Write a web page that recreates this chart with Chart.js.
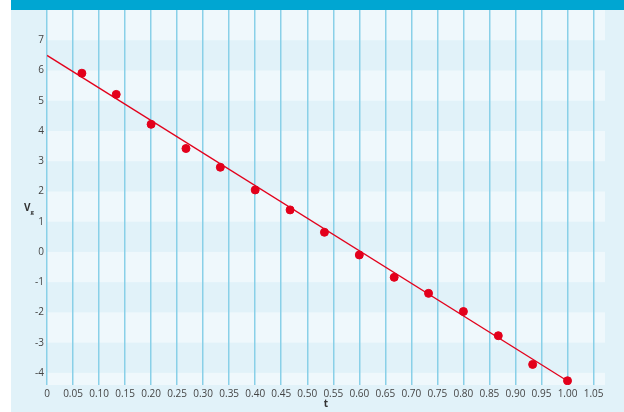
<!DOCTYPE html>
<html>
<head>
<meta charset="utf-8">
<script src="https://cdn.jsdelivr.net/npm/chart.js@4"></script>
<style>
  html, body { margin: 0; padding: 0; background: #fff; }
  #wrap { position: relative; width: 624px; height: 412px; }
</style>
</head>
<body>
<div id="wrap"><canvas id="grafico" width="624" height="412"></canvas></div>
<script>
// measured points
const tValues = [0.067, 0.133, 0.2, 0.267, 0.333, 0.4, 0.467, 0.533, 0.6, 0.667, 0.733, 0.8, 0.867, 0.933, 1.0];
const vgValues = [5.91, 5.21, 4.22, 3.42, 2.80, 2.05, 1.39, 0.65, -0.10, -0.84, -1.37, -1.97, -2.77, -3.72, -4.26];

// fitted line end points
const fitT = [0, 1.0];
const fitVg = [6.5, -4.27];

const xTitle = 't';
const yTitle = 'V';
const ySub = 'g';

const fondo = {
    id: 'fondo',
    beforeDraw(chart) {
        const ctx = chart.ctx;
        const area = chart.chartArea;
        const y = chart.scales.y;
        ctx.save();
        ctx.fillStyle = '#e1f2f9';
        ctx.fillRect(11, 0, chart.width - 11, chart.height);
        ctx.beginPath();
        ctx.rect(area.left, area.top, area.right - area.left, area.bottom - area.top);
        ctx.clip();
        for (let k = -5; k < 8; k++) {
            if (Math.abs(k % 2) === 1) {
                const top = y.getPixelForValue(k + 1);
                const bottom = y.getPixelForValue(k);
                ctx.fillStyle = '#eff8fc';
                ctx.fillRect(area.left, top, area.right - area.left, bottom - top);
            }
        }
        ctx.restore();
    },
    afterDraw(chart) {
        const ctx = chart.ctx;
        ctx.save();
        ctx.fillStyle = '#00a6d2';
        ctx.fillRect(11, 0, chart.width - 11, 10);
        ctx.fillStyle = '#333';
        ctx.textBaseline = 'middle';
        ctx.textAlign = 'left';
        ctx.font = 'bold 10px "Open Sans"';
        ctx.fillText(yTitle, 24, 208);
        ctx.font = 'bold 6px "Open Sans"';
        ctx.fillText(ySub, 30.5, 212);
        ctx.restore();
    }
};

new Chart('grafico', {
    type: 'scatter',
    data: {
        datasets: [{
            data: tValues.map((t, i) => ({ x: t, y: vgValues[i] })),
            backgroundColor: '#e3001b',
            borderColor: '#e3001b',
            pointRadius: 4,
            pointHoverRadius: 4
        }, {
            type: 'line',
            data: fitT.map((t, i) => ({ x: t, y: fitVg[i] })),
            borderColor: '#e3001b',
            borderWidth: 1.3,
            pointRadius: 0,
            fill: false
        }]
    },
    plugins: [fondo],
    options: {
        responsive: false,
        animation: false,
        devicePixelRatio: 1,
        layout: { padding: { left: 0, right: 19, top: 10, bottom: 0 } },
        plugins: {
            legend: { display: false },
            tooltip: { enabled: false }
        },
        scales: {
            x: {
                type: 'linear',
                min: 0,
                max: 1.072,
                afterFit: s => { s.height = 27; },
                border: { display: false },
                grid: { color: '#89d0e8', lineWidth: 1.5, drawTicks: false },
                ticks: {
                    stepSize: 0.05,
                    includeBounds: false,
                    padding: 3,
                    color: '#444',
                    font: { family: 'Open Sans', size: 10 },
                    maxRotation: 0,
                    autoSkip: false,
                    callback: v => v === 0 ? '0' : v.toFixed(2)
                },
                title: {
                    display: true,
                    text: xTitle,
                    color: '#333',
                    font: { family: 'Open Sans', size: 10, weight: 'bold' },
                    padding: { top: 0, bottom: 2 }
                }
            },
            y: {
                min: -4.4,
                max: 8,
                afterFit: s => { s.width = 47; },
                border: { display: false },
                grid: { display: false, drawTicks: false, tickLength: 0 },
                ticks: {
                    stepSize: 1,
                    includeBounds: false,
                    padding: 3,
                    color: '#444',
                    font: { family: 'Open Sans', size: 10 },
                    callback: v => v === 8 ? '' : v
                }
            }
        }
    }
});
</script>
</body>
</html>
